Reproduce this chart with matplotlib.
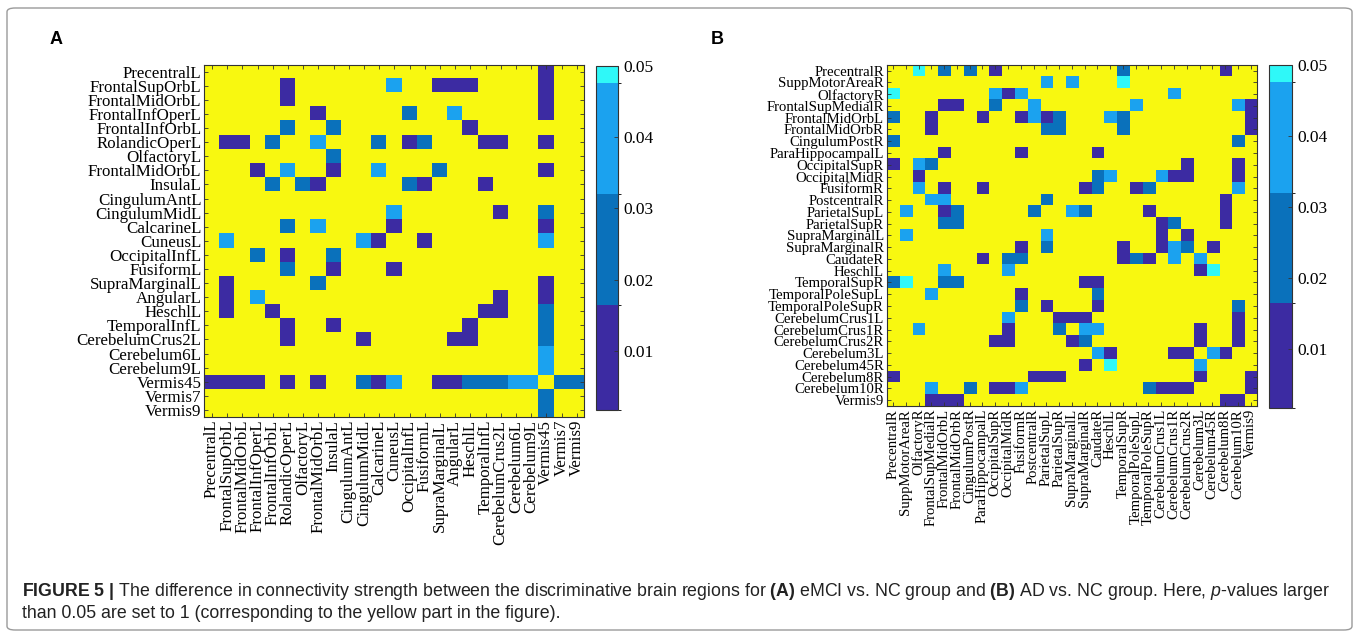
import numpy as np
import matplotlib
matplotlib.use("Agg")
import matplotlib.pyplot as plt
from matplotlib.colors import ListedColormap, BoundaryNorm
from matplotlib.patches import FancyBboxPatch

# ---------------- data ----------------
labels_a = ["PrecentralL", "FrontalSupOrbL", "FrontalMidOrbL", "FrontalInfOperL",
            "FrontalInfOrbL", "RolandicOperL", "OlfactoryL", "FrontalMidOrbL",
            "InsulaL", "CingulumAntL", "CingulumMidL", "CalcarineL", "CuneusL",
            "OccipitalInfL", "FusiformL", "SupraMarginalL", "AngularL", "HeschlL",
            "TemporalInfL", "CerebelumCrus2L", "Cerebelum6L", "Cerebelum9L",
            "Vermis45", "Vermis7", "Vermis9"]

labels_b = ["PrecentralR", "SuppMotorAreaR", "OlfactoryR", "FrontalSupMedialR",
            "FrontalMidOrbL", "FrontalMidOrbR", "CingulumPostR", "ParaHippocampalL",
            "OccipitalSupR", "OccipitalMidR", "FusiformR", "PostcentralR",
            "ParietalSupL", "ParietalSupR", "SupraMarginalL", "SupraMarginalR",
            "CaudateR", "HeschlL", "TemporalSupR", "TemporalPoleSupL",
            "TemporalPoleSupR", "CerebelumCrus1L", "CerebelumCrus1R",
            "CerebelumCrus2R", "Cerebelum3L", "Cerebelum45R", "Cerebelum8R",
            "Cerebelum10R", "Vermis9"]

# p-value class per cell: '.' = not significant (set to 1), P/D/L/C = p-value bands
p_codes = {".": 1.0, "P": 0.008, "D": 0.024, "L": 0.040, "C": 0.049}

grid_a = [
    "......................P..",
    ".....P......L..PPP....P..",
    ".....P................P..",
    ".......P.....D..L.....P..",
    ".....D..D........P.......",
    ".PP.D..L...D.PD...PP..P..",
    "........D................",
    "...P.L..P..L...D......P..",
    "....D.DP.....DP...P......",
    ".........................",
    "............L......P..D..",
    ".....D.L....P.........P..",
    ".L........LP..P.......L..",
    "...D.P..D................",
    ".....D..P...P............",
    ".P.....D..............P..",
    ".P.L...............P..P..",
    ".P..P.............PP..D..",
    ".....P..P........P....D..",
    ".....P....P.....PP....D..",
    "......................L..",
    "......................L..",
    "PPPP.P.P..DPL..PPDDDLL.DD",
    "......................D..",
    "......................D..",
]

grid_b = [
    "..C.D.D.P.........D.......P..",
    "............L.L...C..........",
    "C.......LPL...........L......",
    "....PP..D..L.......L.......LP",
    "D..P...P..PLPD...LD.........P",
    "...P........DD....D.........P",
    "D..........................D.",
    "....P.....P.....P............",
    "P.LD...................P...P.",
    "..P.............DL...LPP...P.",
    "..L.P..P.......PD..PD......L.",
    "...LL.......D.............P..",
    ".L..PD.....D..LD....P.....P..",
    "....DD...............PD...P..",
    ".L..........L........P.P.....",
    "..........P.D.....P..PLD.P...",
    ".......P.DD.......PDP.L.L....",
    "....L....L..............PC...",
    "DC..DD.........PP............",
    "...L......P.....D............",
    "..........D.P...P..........D.",
    ".........L...PPP...........P.",
    "..L......P...D.LL.......P..P.",
    "........PP....PD........P..P.",
    "................LP....PP.LP..",
    "...............P.C......L....",
    "P..........PPP..........P...P",
    "...L..D.PPL.........DPPP....P",
    "...PPP....................PP.",
]

cbar_ticks = [0.01, 0.02, 0.03, 0.04, 0.05]
band_edges = [0.0017, 0.0165, 0.032, 0.0476, 0.05]
band_colors = ["#3c2ba2", "#0a71bb", "#1ba2ef", "#2ff8f8"]
yellow = "#f8f810"

caption_1 = (r"$\mathbf{FIGURE\ 5\ |}$ The difference in connectivity strength between the "
             r"discriminative brain regions for $\mathbf{(A)}$ eMCI vs. NC group and "
             r"$\mathbf{(B)}$ AD vs. NC group. Here, $\mathit{p}$-values larger")
caption_2 = "than 0.05 are set to 1 (corresponding to the yellow part in the figure)."


def to_matrix(grid):
    return np.array([[p_codes[ch] for ch in row] for row in grid], dtype=float)


mat_a = to_matrix(grid_a)
mat_b = to_matrix(grid_b)

# ---------------- style ----------------
plt.rcParams["mathtext.fontset"] = "custom"
plt.rcParams["mathtext.rm"] = "Liberation Sans"
plt.rcParams["mathtext.bf"] = "Liberation Sans:bold"
plt.rcParams["mathtext.it"] = "Liberation Sans:italic"

W, H = 1360, 635
fig = plt.figure(figsize=(W / 100, H / 100), dpi=100)


def rect(x0, y0, x1, y1):
    return [x0 / W, 1 - y1 / H, (x1 - x0) / W, (y1 - y0) / H]


cmap = ListedColormap(band_colors)
cmap.set_over(yellow)
norm = BoundaryNorm(band_edges, cmap.N)

serif = "Liberation Serif"


def draw_panel(ax_box, cax_box, mat, labels, fs):
    ax = fig.add_axes(rect(*ax_box))
    im = ax.imshow(mat, cmap=cmap, norm=norm, aspect="auto", interpolation="nearest")
    n = len(labels)
    ax.set_xticks(range(n))
    ax.set_yticks(range(n))
    ax.set_xticklabels(labels, rotation=90, family=serif, fontsize=fs)
    ax.set_yticklabels(labels, family=serif, fontsize=fs)
    ax.tick_params(direction="in", length=3, width=0.6, color="#333333",
                   top=True, right=True, pad=2)
    for s in ax.spines.values():
        s.set_color("#333333")
        s.set_linewidth(0.8)
    cax = fig.add_axes(rect(*cax_box))
    cb = fig.colorbar(im, cax=cax, ticks=cbar_ticks, spacing="proportional")
    cb.ax.set_yticklabels([f"{t:.2f}" for t in cbar_ticks], family=serif, fontsize=12.5)
    cb.ax.tick_params(direction="in", length=3, width=0.6, color="#333333", pad=4)
    cb.outline.set_edgecolor("#333333")
    cb.outline.set_linewidth(0.8)
    return ax


draw_panel((204.3, 64.7, 584.3, 417), (596, 66, 618, 410), mat_a, labels_a, 12.2)
draw_panel((886.7, 64.7, 1257, 406), (1269, 65, 1292, 408), mat_b, labels_b, 10.6)

fig.text(56 / W, 1 - 40 / H, "A", family="Liberation Sans", fontweight="bold",
         fontsize=13, ha="center", va="center")
fig.text(717 / W, 1 - 40 / H, "B", family="Liberation Sans", fontweight="bold",
         fontsize=13, ha="center", va="center")

fig.text(22 / W, 1 - 591 / H, caption_1, family="Liberation Sans",
         fontsize=12.8, ha="left", va="center", color="#222222")
fig.text(22 / W, 1 - 614 / H, caption_2, family="Liberation Sans",
         fontsize=12.8, ha="left", va="center", color="#222222")

border = FancyBboxPatch((7 / W, 1 - 630 / H), (1352 - 7) / W, (630 - 8) / H,
                        boxstyle="round,pad=0,rounding_size=0.006",
                        transform=fig.transFigure, fill=False,
                        edgecolor="#9a9a9a", linewidth=1.0)
fig.patches.append(border)

fig.savefig("out.png", dpi=100)
